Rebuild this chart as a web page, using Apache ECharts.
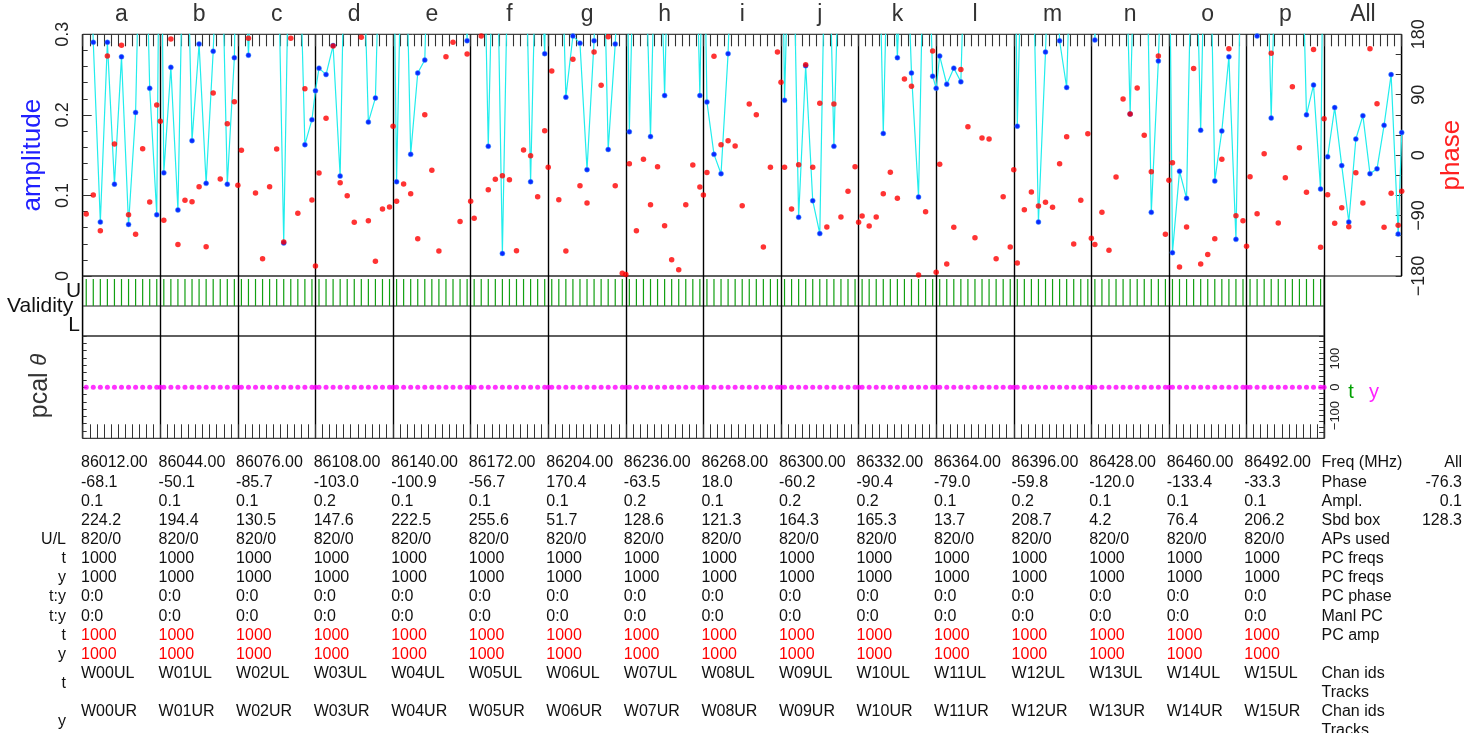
<!DOCTYPE html>
<html><head><meta charset="utf-8">
<script src="https://cdn.jsdelivr.net/npm/echarts/dist/echarts.min.js"></script>
<style>html,body{margin:0;padding:0;background:#fff;}#c{width:1476px;height:733px;}</style>
</head><body><div id="c"></div>
<script>
// ---------------- DATA ----------------
const channelNames = ['a','b','c','d','e','f','g','h','i','j','k','l','m','n','o','p'];
const allName = 'All';
// amplitude per segment (11 segments + boundary point); values > 0.3 run off the top
const ampA = [0.55, 0.290, 0.067, 0.290, 0.114, 0.272, 0.064, 0.203, 0.6, 0.233, 0.076, 0.6];
const ampB = [0.128, 0.259, 0.082, 0.55, 0.168, 0.288, 0.115, 0.279, 0.5, 0.114, 0.271, 0.55];
const ampC = [0.5, 0.274, 0.5, 0.6, 0.6, 0.5, 0.041, 0.55, 0.5, 0.163, 0.194, 0.23];
const ampD = [0.258, 0.250, 0.286, 0.124, 0.6, 0.55, 0.5, 0.191, 0.221, 0.55, 0.6, 0.5];
const ampE = [0.117, 0.55, 0.151, 0.252, 0.268, 0.6, 0.5, 0.55, 0.6, 0.5, 0.292, 0.55];
const ampF = [0.5, 0.6, 0.161, 0.55, 0.028, 0.5, 0.6, 0.55, 0.117, 0.5, 0.276, 0.55];
const ampG = [0.5, 0.55, 0.222, 0.298, 0.289, 0.132, 0.292, 0.55, 0.157, 0.288, 0.5, 0.55];
const ampH = [0.179, 0.55, 0.5, 0.173, 0.55, 0.224, 0.6, 0.5, 0.55, 0.6, 0.224, 0.5];
const ampI = [0.216, 0.151, 0.127, 0.276, 0.55, 0.6, 0.5, 0.55, 0.6, 0.5, 0.55, 0.6];
const ampJ = [0.218, 0.55, 0.073, 0.261, 0.0935, 0.0526, 0.55, 0.161, 0.5, 0.6, 0.55, 0.5];
const ampK = [0.5, 0.55, 0.6, 0.177, 0.55, 0.271, 0.5, 0.252, 0.098, 0.55, 0.248, 0.233];
const ampL = [0.273, 0.238, 0.258, 0.241, 0.55, 0.6, 0.5, 0.55, 0.6, 0.5, 0.55, 0.6];
const ampM = [0.186, 0.55, 0.5, 0.067, 0.278, 0.55, 0.292, 0.234, 0.55, 0.6, 0.5, 0.55];
const ampN = [0.293, 0.55, 0.6, 0.5, 0.55, 0.201, 0.55, 0.6, 0.079, 0.267, 0.55, 0.5];
const ampO = [0.029, 0.130, 0.0964, 0.55, 0.181, 0.6, 0.118, 0.180, 0.272, 0.0455, 0.55, 0.6];
const ampP = [0.5, 0.298, 0.55, 0.196, 0.55, 0.6, 0.5, 0.55, 0.2, 0.237, 0.108, 0.55];
const ampAll = [0.148, 0.209, 0.137, 0.067, 0.170, 0.199, 0.127, 0.133, 0.187, 0.250, 0.052, 0.178];
// phase (deg) per segment
const phsA = [-87.7, -59.4, -112.5, 147.7, 16.6, 163.6, -88.7, -118, 9.7, -69.8, 74.7, 50.4];
const phsB = [-97, 173, -133, -67.3, -69.3, -47, -136.3, 92.6, -35.5, 46.9, 79.7, -45];
const phsC = [7.2, 174, -56.4, -154.2, -47, 9.2, -129.4, 174, -86.7, 99, -66.8, -165.1];
const phsD = [-26.6, 54.9, 162.6, -41, -60.4, -100, 175.5, -97.6, -158.2, -80.2, -77.2, 42.9];
const phsE = [-68.8, -43, -57.4, -124.4, 60.3, -22.6, -142.8, 146.7, 168.1, -99, 150.7, -68.8];
const phsF = [-94, 177.5, -51.4, -36, -30.5, -36.5, -142.3, 7.7, -0.8, -61.8, 36.5, -18.1];
const phsG = [125.4, -66.3, -142.8, 142.8, -45.5, -71.3, 153.7, 104, 176.5, -45.5, -176, -177.6];
const phsH = [-12.7, -112.5, -6.2, -73.8, -17.2, -105, -155.7, -170.6, -73.8, -14.7, -47.4, -59.4];
const phsI = [-26, 147.2, 15.6, 21.6, 13.6, -75.2, 76.2, 60.3, -136.8, -18.1, 153.7, 108.5];
const phsJ = [-18.1, -80.2, -14.2, 134.8, -18.1, 77.2, -107, 76.2, -92.1, -53.9, -17.2, -100];
const phsK = [-90.6, -105.5, -92.1, -57.4, -25.6, -64.3, 113.5, 102.5, -178.5, -84.2, 155.2, -174.6];
const phsL = [-13.7, -162.2, -107.5, 127.4, 42.4, -123, 25.6, 24.1, -154.2, -61.8, -136.8, -21.6];
const phsM = [-160.7, -81.2, -54.9, -75.7, -70.3, -77.7, -12.7, 27.5, -132.4, -67.3, 32, -123.9];
const phsN = [-132.9, -85.2, -141.8, -32.5, 83.7, 61.3, 100, 29.5, -24.6, 147.7, -118, -37.5];
const phsO = [-11.2, -166.6, -107, 128.9, -162.2, -147.8, -124.4, -6.2, 158.6, -90.2, -97.6, -135.8];
const phsP = [-32, -87.2, 2.2, 151.7, -101, -33.5, 102, 11.2, -55.4, 157.2, -137.3, 54.4];
const phsAll = [-58.9, -101.6, -78.2, -106.5, -26.1, -71.3, 158.6, 76.7, -107.5, -56.9, -104.5, -53.9];
// validity (1 = upper sideband valid) per segment, and pcal phase per segment
const validityPerChannel = [1,1,1,1,1,1,1,1,1,1,1];
const pcalPhasePerChannel = [0,0,0,0,0,0,0,0,0,0,0,0];
// table
const freqs = ['86012.00','86044.00','86076.00','86108.00','86140.00','86172.00','86204.00','86236.00','86268.00','86300.00','86332.00','86364.00','86396.00','86428.00','86460.00','86492.00'];
const phases = ['-68.1','-50.1','-85.7','-103.0','-100.9','-56.7','170.4','-63.5','18.0','-60.2','-90.4','-79.0','-59.8','-120.0','-133.4','-33.3'];
const ampls = ['0.1','0.1','0.1','0.2','0.1','0.1','0.1','0.2','0.1','0.2','0.2','0.1','0.2','0.1','0.1','0.1'];
const sbdBox = ['224.2','194.4','130.5','147.6','222.5','255.6','51.7','128.6','121.3','164.3','165.3','13.7','208.7','4.2','76.4','206.2'];
const apsUsed = ['820/0','820/0','820/0','820/0','820/0','820/0','820/0','820/0','820/0','820/0','820/0','820/0','820/0','820/0','820/0','820/0'];
const pcFreqT = ['1000','1000','1000','1000','1000','1000','1000','1000','1000','1000','1000','1000','1000','1000','1000','1000'];
const pcFreqY = ['1000','1000','1000','1000','1000','1000','1000','1000','1000','1000','1000','1000','1000','1000','1000','1000'];
const pcPhase = ['0:0','0:0','0:0','0:0','0:0','0:0','0:0','0:0','0:0','0:0','0:0','0:0','0:0','0:0','0:0','0:0'];
const manlPC = ['0:0','0:0','0:0','0:0','0:0','0:0','0:0','0:0','0:0','0:0','0:0','0:0','0:0','0:0','0:0','0:0'];
const pcAmpT = ['1000','1000','1000','1000','1000','1000','1000','1000','1000','1000','1000','1000','1000','1000','1000','1000'];
const pcAmpY = ['1000','1000','1000','1000','1000','1000','1000','1000','1000','1000','1000','1000','1000','1000','1000','1000'];
const chanIdsT = ['W00UL','W01UL','W02UL','W03UL','W04UL','W05UL','W06UL','W07UL','W08UL','W09UL','W10UL','W11UL','W12UL','W13UL','W14UL','W15UL'];
const chanIdsY = ['W00UR','W01UR','W02UR','W03UR','W04UR','W05UR','W06UR','W07UR','W08UR','W09UR','W10UR','W11UR','W12UR','W13UR','W14UR','W15UR'];
const rowNames = ['Freq (MHz)','Phase','Ampl.','Sbd box','APs used','PC freqs','PC freqs','PC phase','Manl PC','PC amp','','Chan ids','Tracks','Chan ids','Tracks'];
const rowLeftLabels = ['','','','','U/L','t','y','t:y','t:y','t','y','','','',''];
const allColumn = ['All','-76.3','0.1','128.3'];

// ---------------- LAYOUT ----------------
const ampByChan = [ampA,ampB,ampC,ampD,ampE,ampF,ampG,ampH,ampI,ampJ,ampK,ampL,ampM,ampN,ampO,ampP];
const phsByChan = [phsA,phsB,phsC,phsD,phsE,phsF,phsG,phsH,phsI,phsJ,phsK,phsL,phsM,phsN,phsO,phsP];
const SEG = 11;
const xOf = (k, i) => SEG * k + (i < SEG ? i + 0.5 : SEG);
const L0 = 82.7, T0 = 34.3, PW = 1319, PH = 241.7;
const panelW = PW / 17;
const FONT = 'Liberation Sans, Arial, sans-serif';

const ampLine = [], phsPts = [], ampAllLine = [], validPts = [], pcalPts = [];
ampByChan.forEach((arr, k) => arr.forEach((v, i) => ampLine.push([xOf(k, i), v])));
phsByChan.forEach((arr, k) => arr.forEach((v, i) => phsPts.push([xOf(k, i), v])));
ampAll.forEach((v, i) => ampAllLine.push([xOf(16, i), v]));
phsAll.forEach((v, i) => phsPts.push([xOf(16, i), v]));
channelNames.forEach((c, k) => {
  validityPerChannel.forEach((v, i) => validPts.push([xOf(k, i), v]));
  pcalPhasePerChannel.forEach((v, i) => pcalPts.push([xOf(k, i), v]));
});

const graphics = [];
channelNames.concat([allName]).forEach((n, k) => {
  graphics.push({type:'text', x: L0 + panelW * (k + 0.5), y: 15,
    style:{text:n, font:'23px ' + FONT, fill:'#333', align:'center', verticalAlign:'middle'}});
});
graphics.push({type:'text', x: 7, y: 306, style:{text:'Validity', font:'21px ' + FONT, fill:'#111', align:'left', verticalAlign:'middle'}});
graphics.push({type:'text', x: 73.5, y: 291, style:{text:'U', font:'21px ' + FONT, fill:'#111', align:'center', verticalAlign:'middle'}});
graphics.push({type:'text', x: 74, y: 325, style:{text:'L', font:'21px ' + FONT, fill:'#111', align:'center', verticalAlign:'middle'}});
graphics.push({type:'text', x: 40, y: 386, rotation: Math.PI / 2,
  style:{text:'{a|pcal}  {b|θ}', align:'center', verticalAlign:'middle',
    rich:{a:{font:'25px ' + FONT, fill:'#333'}, b:{font:'italic 22px ' + FONT, fill:'#333'}}}});
graphics.push({type:'text', x: 1351, y: 392, style:{text:'t', font:'20px ' + FONT, fill:'#00a000', align:'center', verticalAlign:'middle'}});
graphics.push({type:'text', x: 1374, y: 392, style:{text:'y', font:'20px ' + FONT, fill:'#ff22ff', align:'center', verticalAlign:'middle'}});

// table
const rowsY = [463, 482.5, 501.5, 521, 540, 559, 578, 597, 616.5, 635.5, 654.5, 673.5, 692.5, 711.5, 731];
const tableRows = [freqs, phases, ampls, sbdBox, apsUsed, pcFreqT, pcFreqY, pcPhase, manlPC, pcAmpT, pcAmpY, chanIdsT, null, chanIdsY, null];
tableRows.forEach((row, r) => {
  if (!row) return;
  const red = (r === 9 || r === 10);
  row.forEach((t, k) => {
    graphics.push({type:'text', x: 81 + 77.55 * k, y: rowsY[r],
      style:{text:t, font:'16px ' + FONT, fill: red ? '#ff0000' : '#111', align:'left', verticalAlign:'middle'}});
  });
});
rowNames.forEach((t, r) => {
  if (!t) return;
  graphics.push({type:'text', x: 1321.5, y: rowsY[r], style:{text:t, font:'16px ' + FONT, fill:'#111', align:'left', verticalAlign:'middle'}});
});
rowLeftLabels.forEach((t, r) => {
  if (!t) return;
  graphics.push({type:'text', x: 66, y: rowsY[r], style:{text:t, font:'16px ' + FONT, fill:'#111', align:'right', verticalAlign:'middle'}});
});
graphics.push({type:'text', x: 66, y: 683.7, style:{text:'t', font:'16px ' + FONT, fill:'#111', align:'right', verticalAlign:'middle'}});
graphics.push({type:'text', x: 66, y: 721.7, style:{text:'y', font:'16px ' + FONT, fill:'#111', align:'right', verticalAlign:'middle'}});
allColumn.forEach((t, r) => {
  graphics.push({type:'text', x: 1462, y: rowsY[r], style:{text:t, font:'16px ' + FONT, fill:'#111', align:'right', verticalAlign:'middle'}});
});

const minus = s => String(s).replace('-', '\u2212');
const off = () => ({show:false});
const lineOff = () => ({show:false, onZero:false});
const chart = echarts.init(document.getElementById('c'), null, {renderer:'canvas'});
chart.setOption({
  animation:false,
  backgroundColor:'#fff',
  grid:[
    {left:L0, top:T0, width:PW, height:PH, show:true, borderColor:'#111', borderWidth:1},
    {left:L0, top:276, width:panelW*16, height:60, show:true, borderColor:'#111', borderWidth:1},
    {left:L0, top:336, width:panelW*16, height:102.3, show:true, borderColor:'#111', borderWidth:1}
  ],
  xAxis:[
    {gridIndex:0, type:'value', position:'top', min:0, max:187, interval:1, axisLine:lineOff(), axisLabel:off(), splitLine:off(),
      axisTick:{show:true, inside:true, length:12, lineStyle:{color:'#333', width:1.1}}},
    {gridIndex:0, type:'value', position:'bottom', min:0, max:187, interval:11, axisLine:lineOff(), axisLabel:off(), axisTick:off(),
      splitLine:{show:true, lineStyle:{color:'#000', width:1.4}}},
    {gridIndex:1, type:'value', position:'bottom', min:0, max:176, interval:11, axisLine:lineOff(), axisLabel:off(), axisTick:off(),
      splitLine:{show:true, lineStyle:{color:'#000', width:1.4}}},
    {gridIndex:2, type:'value', position:'bottom', min:0, max:176, interval:1, axisLine:lineOff(), axisLabel:off(), splitLine:off(),
      axisTick:{show:true, inside:true, length:14, lineStyle:{color:'#333', width:1}}},
    {gridIndex:2, type:'value', position:'top', min:0, max:176, interval:11, axisLine:lineOff(), axisLabel:off(), axisTick:off(),
      splitLine:{show:true, lineStyle:{color:'#000', width:1.4}}}
  ],
  yAxis:[
    {gridIndex:0, type:'value', position:'left', min:0, max:0.3, interval:0.1, axisLine:lineOff(), splitLine:off(),
      axisTick:{show:true, inside:true, length:9, lineStyle:{color:'#333'}},
      minorTick:{show:true, splitNumber:5, length:5, lineStyle:{color:'#333'}},
      axisLabel:{show:true, rotate:90, margin:11, fontSize:18, color:'#222', fontFamily:FONT,
        formatter: v => (Math.abs(v) < 1e-9 ? '0' : v.toFixed(1))},
      name:'amplitude', nameLocation:'middle', nameRotate:90, nameGap:24,
      nameTextStyle:{color:'#2020ff', fontSize:26, fontFamily:FONT}},
    {gridIndex:0, type:'value', position:'right', min:-180, max:180, interval:30, axisLine:lineOff(), splitLine:off(),
      axisTick:{show:true, inside:true, length:6, lineStyle:{color:'#333'}},
      axisLabel:{show:true, rotate:90, margin:8, fontSize:18, color:'#222', fontFamily:FONT,
        formatter: v => (v % 90 === 0 ? minus(v) : '')},
      name:'phase', nameLocation:'middle', nameRotate:90, nameGap:37,
      nameTextStyle:{color:'#ff2020', fontSize:26, fontFamily:FONT}},
    {gridIndex:1, type:'value', min:0, max:2, interval:1, axisLine:lineOff(), axisLabel:off(), axisTick:off(),
      splitLine:{show:true, lineStyle:{color:'#666', width:1.6}}},
    {gridIndex:2, type:'value', position:'right', min:-180, max:180, interval:20, axisLine:lineOff(), splitLine:off(),
      axisTick:{show:true, inside:true, length:5, lineStyle:{color:'#333'}},
      axisLabel:{show:true, rotate:90, margin:5, fontSize:13, color:'#222', fontFamily:FONT,
        formatter: v => (v === 100 || v === 0 || v === -100 ? minus(v) : '')}},
    {gridIndex:2, type:'value', position:'left', min:-175, max:175, interval:25, axisLine:lineOff(), splitLine:off(), axisLabel:off(),
      axisTick:{show:true, inside:true, length:4, lineStyle:{color:'#333'}}}
  ],
  series:[
    {type:'line', xAxisIndex:0, yAxisIndex:0, data:ampLine, clip:true, z:3,
      lineStyle:{color:'#22eded', width:1.2}, symbol:'circle', symbolSize:5, showAllSymbol:true,
      itemStyle:{color:'#0a28ff', borderColor:'#40a0ff', borderWidth:0.5}},
    {type:'line', xAxisIndex:0, yAxisIndex:0, data:ampAllLine, clip:true, z:3,
      lineStyle:{color:'#22eded', width:1.2}, symbol:'circle', symbolSize:5, showAllSymbol:true,
      itemStyle:{color:'#0a28ff', borderColor:'#40a0ff', borderWidth:0.5}},
    {type:'scatter', xAxisIndex:0, yAxisIndex:1, data:phsPts, clip:true, z:4,
      symbol:'circle', symbolSize:5.5, itemStyle:{color:'#ff0000'}},
    {type:'custom', xAxisIndex:2, yAxisIndex:2, data:validPts, z:3,
      renderItem:(params, api) => {
        const x = api.value(0), v = api.value(1);
        const p1 = api.coord([x, v]);
        const p2 = api.coord([x, v + 0.9]);
        return {type:'line', shape:{x1:p1[0], y1:p1[1], x2:p2[0], y2:p2[1]},
          style:{stroke:'#12a012', lineWidth:1.2}};
      }},
    {type:'scatter', xAxisIndex:3, yAxisIndex:3, data:pcalPts, z:4,
      symbol:'circle', symbolSize:5, itemStyle:{color:'#ff00ff'}}
  ],
  graphic:graphics
});
</script></body></html>
